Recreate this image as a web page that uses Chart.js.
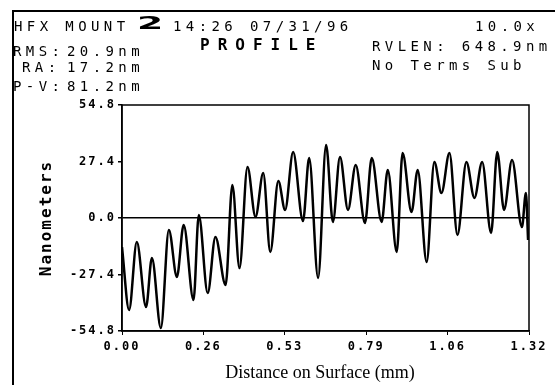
<!DOCTYPE html>
<html>
<head>
<meta charset="utf-8">
<script src="https://cdn.jsdelivr.net/npm/chart.js@4.4.0/dist/chart.umd.min.js"></script>
<style>
  html, body { margin: 0; padding: 0; background: #fff; }
  #wrap { position: relative; width: 555px; height: 385px; overflow: hidden; }
  #frame { position: absolute; left: 12px; top: 10px; width: 543px; height: 375px;
           border-top: 2px solid #000; border-left: 2px solid #000; }
  canvas { position: absolute; left: 0; top: 0; }
  .h { position: absolute; font-family: "DejaVu Sans Mono", monospace; font-size: 14px;
       line-height: 14px; letter-spacing: 4.4px; color: #000; white-space: pre; }
  .big { position: absolute; font-family: "DejaVu Sans", sans-serif; font-weight: bold;
         font-size: 18px; line-height: 18px; transform: scaleX(2.1); transform-origin: left top; }
  .title { position: absolute; font-family: "DejaVu Sans Mono", monospace; font-weight: bold;
           font-size: 16px; line-height: 16px; letter-spacing: 8px; white-space: pre; }
  .xt { position: absolute; font-family: "Liberation Serif", serif; font-size: 18px;
        line-height: 20px; white-space: pre; transform: translateX(-50%); }
</style>
</head>
<body>
<div id="wrap">
  <canvas id="profileChart" width="555" height="385"></canvas>
  <div id="frame"></div>
  <div class="h" style="left:14px;top:19px">HFX MOUNT</div>
  <div class="big" style="left:137px;top:14px">2</div>
  <div class="h" style="left:173px;top:19px">14:26 07/31/96</div>
  <div class="h" style="left:475px;top:19px">10.0x</div>
  <div class="h" style="left:13px;top:44px">RMS:</div>
  <div class="h" style="left:67px;top:44px">20.9nm</div>
  <div class="title" style="left:200px;top:37px">PROFILE</div>
  <div class="h" style="left:372px;top:39px">RVLEN: 648.9nm</div>
  <div class="h" style="left:22px;top:60px">RA:</div>
  <div class="h" style="left:67px;top:60px">17.2nm</div>
  <div class="h" style="left:372px;top:58px">No Terms Sub</div>
  <div class="h" style="left:13px;top:79px">P-V:</div>
  <div class="h" style="left:67px;top:79px">81.2nm</div>
  <div class="xt" style="left:320px;top:362px">Distance on Surface (mm)</div>
</div>
<script>
// profile trace, distance (mm) vs height (nm)
const xValues = [0.000, 0.023, 0.048, 0.078, 0.097, 0.126, 0.152, 0.178, 0.200, 0.232,
  0.249, 0.278, 0.303, 0.336, 0.358, 0.381, 0.407, 0.433, 0.458, 0.481,
  0.507, 0.529, 0.555, 0.587, 0.607, 0.636, 0.662, 0.684, 0.707, 0.733,
  0.758, 0.788, 0.810, 0.842, 0.862, 0.891, 0.910, 0.939, 0.959, 0.988,
  1.013, 1.036, 1.062, 1.088, 1.117, 1.143, 1.168, 1.197, 1.217, 1.239,
  1.265, 1.297, 1.310, 1.317];
const yValues = [-14.1, -44.6, -11.6, -43.2, -19.4, -53.4, -5.8, -28.6, -3.4, -39.8,
  1.5, -36.4, -9.2, -32.5, 16.0, -24.3, 24.7, 0.5, 21.8, -16.5,
  17.9, 3.9, 32.0, -1.5, 29.1, -29.1, 35.4, -1.9, 29.6, 3.9,
  25.7, -2.4, 29.1, -1.9, 23.3, -16.5, 31.5, 2.9, 23.3, -21.3,
  27.2, 12.1, 31.5, -8.2, 27.2, 9.7, 27.2, -7.3, 32.0, 3.9,
  28.1, -4.4, 12.1, -10.7];

const xTicks = [0, 0.264, 0.528, 0.792, 1.056, 1.32];
const xTickLabels = ['0.00', '0.26', '0.53', '0.79', '1.06', '1.32'];
const yTicks = [-54.8, -27.4, 0, 27.4, 54.8];
const yTickLabels = ['-54.8', '-27.4', '0.0', '27.4', '54.8'];

const points = xValues.map((x, i) => ({ x: x, y: yValues[i] }));

const tickFont = { family: 'DejaVu Sans Mono', weight: 'bold', size: 12 };

// wide dot-matrix look for canvas text, plus box round the plot
const plotFrame = {
  id: 'plotFrame',
  beforeLayout(chart) { chart.ctx.letterSpacing = '2px'; },
  beforeDraw(chart) { chart.ctx.letterSpacing = '2px'; },
  afterDraw(chart) {
    const { ctx, chartArea: a } = chart;
    ctx.save();
    ctx.strokeStyle = '#000';
    ctx.lineWidth = 1.5;
    ctx.strokeRect(a.left, a.top, a.right - a.left, a.bottom - a.top);
    ctx.restore();
  }
};

new Chart(document.getElementById('profileChart'), {
  type: 'line',
  data: {
    datasets: [{
      data: points,
      borderColor: '#000',
      borderWidth: 2.5,
      pointRadius: 0,
      fill: false,
      cubicInterpolationMode: 'monotone',
    }]
  },
  options: {
    responsive: false,
    animation: false,
    layout: { padding: { left: 0, top: 105, right: 26, bottom: 0 } },
    plugins: { legend: { display: false }, tooltip: { enabled: false } },
    scales: {
      x: {
        type: 'linear',
        min: 0,
        max: 1.32,
        afterBuildTicks: s => { s.ticks = xTicks.map(v => ({ value: v })); },
        afterFit: s => { s.height = 54; },
        ticks: {
          callback: (v, i) => xTickLabels[i],
          font: tickFont,
          color: '#000',
          padding: 5,
          maxRotation: 0,
          autoSkip: false,
        },
        grid: { drawOnChartArea: false, tickColor: '#000', tickLength: 4 },
        border: { color: '#000', width: 1.5 },
      },
      y: {
        type: 'linear',
        min: -54.8,
        max: 54.8,
        afterBuildTicks: s => { s.ticks = yTicks.map(v => ({ value: v })); },
        afterFit: s => { s.width = 122; },
        ticks: {
          callback: (v, i) => yTickLabels[i],
          font: tickFont,
          color: '#000',
          padding: 2,
        },
        grid: {
          color: c => (c.tick && c.tick.value === 0 ? '#000' : 'rgba(0,0,0,0)'),
          lineWidth: 1.5,
          tickColor: '#000',
          tickLength: 4,
        },
        border: { color: '#000', width: 1.5 },
        title: {
          display: true,
          text: 'Nanometers',
          color: '#000',
          font: { family: 'DejaVu Sans Mono', weight: 'bold', size: 16 },
          padding: { top: 37, bottom: 0 },
        },
      },
    },
  },
  plugins: [plotFrame],
});
</script>
</body>
</html>
